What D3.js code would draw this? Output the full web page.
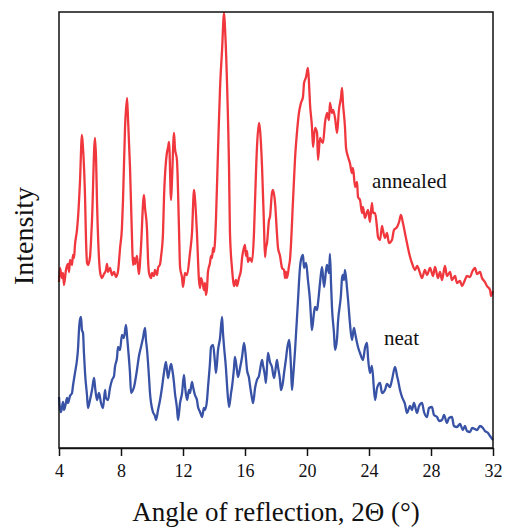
<!DOCTYPE html>
<html>
<head>
<meta charset="utf-8">
<script src="https://cdn.jsdelivr.net/npm/d3@7"></script>
<style>
  body { margin: 0; background: #fff; }
  svg { display: block; }
  svg text { font-family: "Liberation Serif", "Times New Roman", serif; }
</style>
</head>
<body>
<svg id="chart"></svg>
<script>
// XRD patterns (2theta in degrees, intensity in arbitrary units)
const annealedAngle = [
  4.00, 4.06, 4.19, 4.26, 4.32, 4.45, 4.58, 4.65, 4.71, 4.84, 4.90, 4.97, 5.03, 5.16, 5.23, 5.35,
  5.48, 5.55, 5.68, 5.74, 5.81, 5.87, 6.00, 6.06, 6.13, 6.32, 6.39, 6.45, 6.58, 6.65, 6.77, 6.90,
  7.03, 7.10, 7.16, 7.29, 7.42, 7.55, 7.68, 7.81, 7.94, 8.06, 8.13, 8.26, 8.39, 8.45, 8.58, 8.71,
  8.77, 8.84, 8.90, 9.03, 9.10, 9.16, 9.23, 9.29, 9.48, 9.55, 9.68, 9.74, 9.81, 9.94, 10.00, 10.13,
  10.19, 10.32, 10.39, 10.52, 10.58, 10.71, 10.77, 10.97, 11.03, 11.10, 11.23, 11.29, 11.42, 11.48,
  11.61, 11.74, 11.81, 11.94, 12.00, 12.13, 12.26, 12.45, 12.58, 12.71, 12.77, 12.90, 13.03, 13.10,
  13.16, 13.29, 13.35, 13.42, 13.48, 13.55, 13.61, 13.74, 13.81, 13.87, 13.94, 14.00, 14.06, 14.13,
  14.26, 14.39, 14.52, 14.65, 14.71, 14.84, 14.97, 15.03, 15.16, 15.23, 15.29, 15.42, 15.48, 15.61,
  15.74, 15.81, 15.87, 16.00, 16.06, 16.13, 16.19, 16.32, 16.45, 16.58, 16.65, 16.77, 16.90, 16.97,
  17.10, 17.23, 17.29, 17.35, 17.42, 17.55, 17.61, 17.74, 17.81, 17.94, 18.06, 18.13, 18.26, 18.32,
  18.39, 18.52, 18.58, 18.65, 18.71, 18.84, 18.90, 19.10, 19.23, 19.35, 19.48, 19.61, 19.74, 19.81,
  19.94, 20.06, 20.13, 20.19, 20.32, 20.39, 20.52, 20.65, 20.71, 20.84, 20.90, 21.03, 21.16, 21.29,
  21.42, 21.48, 21.61, 21.68, 21.81, 21.94, 22.06, 22.19, 22.26, 22.32, 22.45, 22.52, 22.65, 22.77,
  22.90, 22.97, 23.10, 23.23, 23.29, 23.42, 23.55, 23.61, 23.74, 23.87, 23.94, 24.06, 24.19, 24.26,
  24.39, 24.52, 24.58, 24.71, 24.84, 24.90, 25.03, 25.16, 25.29, 25.48, 25.61, 25.81, 25.94, 26.06,
  26.19, 26.32, 26.45, 26.65, 26.77, 26.97, 27.10, 27.29, 27.42, 27.61, 27.74, 27.94, 28.13, 28.26,
  28.45, 28.58, 28.71, 28.90, 29.03, 29.23, 29.35, 29.55, 29.68, 29.87, 30.00, 30.19, 30.32, 30.52,
  30.65, 30.84, 30.97, 31.16, 31.29, 31.48, 31.61, 31.81, 31.87, 32.00
];
const annealedIntensity = [
  166, 180, 170, 175, 163, 178, 184, 176, 188, 183, 193, 190, 203, 218, 231, 265,
  313, 300, 251, 210, 185, 183, 191, 205, 228, 310, 290, 248, 190, 176, 170, 174,
  178, 184, 176, 180, 173, 176, 171, 177, 200, 220, 248, 320, 350, 330, 281, 210,
  183, 190, 184, 192, 181, 174, 186, 201, 253, 240, 218, 190, 175, 170, 175, 172,
  178, 173, 180, 184, 191, 215, 248, 296, 300, 306, 248, 268, 315, 300,
  288, 220, 181, 170, 161, 175, 173, 195, 215, 258, 250, 215, 168, 160,
  170, 163, 158, 165, 153, 160, 176, 185, 192, 190, 200, 196, 205, 230,
  298, 360, 398, 435, 420, 365, 280, 215, 180, 168, 162, 168, 162, 170,
  178, 190, 196, 203, 192, 197, 186, 190, 186, 215, 248, 300, 325, 318,
  281, 220, 191, 200, 205, 228, 231, 255, 258, 245, 215, 200, 192, 186,
  180, 178, 170, 176, 170, 182, 188, 248, 290, 315, 335, 345, 351, 365,
  371, 380, 365, 345, 321, 301, 320, 315, 288, 310, 308, 305, 325, 335,
  328, 345, 335, 338, 330, 315, 338, 350, 360, 345, 321, 300, 291, 285,
  275, 280, 261, 266, 251, 248, 235, 241, 230, 236, 238, 226, 245, 235,
  235, 220, 211, 208, 222, 218, 210, 215, 205, 208, 218, 221, 226, 233,
  225, 215, 205, 191, 185, 178, 182, 175, 170, 178, 173, 180, 172, 181,
  170, 176, 168, 182, 172, 176, 168, 172, 165, 167, 162, 168, 172, 171,
  176, 180, 174, 176, 170, 166, 162, 158, 152, 157
];

const neatAngle = [
  4.00, 4.06, 4.13, 4.26, 4.32, 4.39, 4.52, 4.58, 4.71, 4.84, 4.90, 5.03, 5.16, 5.23, 5.29, 5.35,
  5.42, 5.48, 5.55, 5.61, 5.68, 5.81, 5.87, 6.00, 6.13, 6.26, 6.32, 6.45, 6.58, 6.71, 6.84, 6.97,
  7.03, 7.16, 7.29, 7.42, 7.55, 7.61, 7.74, 7.81, 7.94, 8.06, 8.19, 8.32, 8.39, 8.45, 8.58, 8.65,
  8.77, 8.84, 8.97, 9.03, 9.16, 9.29, 9.42, 9.55, 9.61, 9.68, 9.81, 9.87, 9.94, 10.06, 10.19, 10.26,
  10.39, 10.52, 10.65, 10.77, 10.90, 11.03, 11.10, 11.23, 11.29, 11.42, 11.48, 11.61, 11.68, 11.81,
  11.94, 12.06, 12.13, 12.26, 12.39, 12.45, 12.58, 12.65, 12.77, 12.90, 12.97, 13.10, 13.23, 13.35,
  13.42, 13.55, 13.61, 13.74, 13.81, 13.94, 14.06, 14.13, 14.26, 14.39, 14.52, 14.58, 14.65, 14.77,
  14.84, 14.97, 15.10, 15.16, 15.29, 15.35, 15.48, 15.55, 15.68, 15.81, 15.94, 16.06, 16.13, 16.26,
  16.32, 16.45, 16.52, 16.65, 16.77, 16.90, 16.97, 17.10, 17.16, 17.29, 17.35, 17.48, 17.61, 17.74,
  17.87, 17.94, 18.06, 18.13, 18.26, 18.32, 18.45, 18.52, 18.65, 18.71, 18.84, 18.97, 19.03, 19.10,
  19.23, 19.42, 19.55, 19.61, 19.74, 19.81, 19.94, 20.06, 20.19, 20.26, 20.32, 20.45, 20.52, 20.65,
  20.71, 20.84, 20.97, 21.10, 21.23, 21.29, 21.42, 21.48, 21.55, 21.61, 21.74, 21.81, 21.94, 22.00,
  22.19, 22.26, 22.32, 22.39, 22.45, 22.58, 22.65, 22.77, 22.90, 23.03, 23.10, 23.23, 23.29, 23.42,
  23.61, 23.74, 23.87, 23.94, 24.06, 24.19, 24.39, 24.52, 24.71, 24.84, 25.03, 25.16, 25.35, 25.48,
  25.68, 25.81, 25.87, 26.00, 26.13, 26.32, 26.45, 26.65, 26.77, 26.90, 27.10, 27.23, 27.42, 27.55,
  27.74, 27.87, 28.06, 28.19, 28.39, 28.52, 28.71, 28.84, 29.03, 29.16, 29.35, 29.48, 29.68, 29.87,
  30.06, 30.19, 30.32, 30.52, 30.65, 30.84, 30.97, 31.16, 31.35, 31.48, 31.68, 31.81, 32.00
];
const neatIntensity = [
  51, 40, 36, 46, 38, 41, 50, 45, 52, 55, 62, 75, 88, 100, 118, 128,
  131, 118, 115, 95, 75, 52, 40, 48, 58, 70, 62, 48, 55, 45, 40, 58,
  50, 48, 60, 68, 72, 81, 90, 101, 98, 113, 110, 123, 112, 101, 75, 55,
  58, 61, 72, 78, 92, 101, 110, 120, 108, 98, 70, 55, 45, 36, 32, 28,
  38, 48, 61, 75, 86, 70, 75, 84, 80, 65, 55, 40, 28, 45,
  55, 73, 62, 48, 58, 55, 66, 61, 53, 48, 41, 36, 31, 40,
  38, 48, 60, 85, 101, 103, 86, 75, 98, 110, 131, 115, 101, 80,
  63, 41, 55, 61, 80, 91, 78, 71, 80, 91, 105, 90, 78, 70,
  63, 50, 45, 60, 68, 72, 78, 88, 83, 72, 65, 95, 86, 81,
  70, 75, 88, 81, 68, 58, 66, 75, 90, 98, 108, 80, 58, 70,
  98, 148, 181, 188, 193, 180, 185, 168, 148, 130, 118, 135, 141, 138,
  145, 165, 181, 161, 178, 183, 175, 194, 165, 141, 115, 98, 110, 126,
  153, 170, 173, 168, 178, 160, 148, 125, 108, 120, 115, 105, 101, 95,
  88, 100, 105, 90, 75, 82, 48, 60, 65, 55, 58, 64, 61, 68,
  81, 72, 68, 58, 51, 44, 35, 42, 38, 45, 35, 42, 45, 36,
  31, 40, 41, 33, 31, 27, 28, 33, 25, 30, 31, 22, 21, 24,
  18, 22, 17, 16, 20, 19, 18, 22, 20, 17, 15, 12, 8
];

const xTicks = [4, 8, 12, 16, 20, 24, 28, 32];
const seriesLabels = [
  { text: "annealed", angle: 24.2, intensity: 260 },
  { text: "neat", angle: 24.97, intensity: 103 }
];

const W = 506, H = 527;
const margin = { top: 12, right: 13, bottom: 79, left: 59 };
const width = W - margin.left - margin.right;
const height = H - margin.top - margin.bottom;
const serif = "'Liberation Serif', 'Times New Roman', serif";

const svg = d3.select("#chart").attr("width", W).attr("height", H);
const g = svg.append("g").attr("transform", `translate(${margin.left},${margin.top})`);

const x = d3.scaleLinear().domain([4, 32]).range([0, width]);
const y = d3.scaleLinear().domain([0, 436]).range([height, 0]);

const line = d3.line()
  .x(d => x(d[0]))
  .y(d => y(d[1]))
  .curve(d3.curveMonotoneX);

const annealed = annealedAngle.map((a, i) => [a, annealedIntensity[i]]);
const neat = neatAngle.map((a, i) => [a, neatIntensity[i]]);

g.append("path")
  .datum(neat)
  .attr("fill", "none")
  .attr("stroke", "#3852a6")
  .attr("stroke-width", 2.3)
  .attr("stroke-linejoin", "round")
  .attr("d", line);

g.append("path")
  .datum(annealed)
  .attr("fill", "none")
  .attr("stroke", "#f0373d")
  .attr("stroke-width", 2.3)
  .attr("stroke-linejoin", "round")
  .attr("d", line);

// frame
g.append("rect")
  .attr("width", width)
  .attr("height", height)
  .attr("fill", "none")
  .attr("stroke", "#111")
  .attr("stroke-width", 1.5);

// bottom axis, ticks outside
const xAxis = g.append("g")
  .attr("transform", `translate(0,${height})`)
  .call(d3.axisBottom(x).tickValues(xTicks).tickSize(8).tickPadding(8).tickSizeOuter(0))
  .attr("font-family", serif)
  .attr("font-size", 18);
xAxis.select(".domain").attr("stroke", "#111").attr("stroke-width", 1.5);
xAxis.selectAll(".tick line").attr("stroke", "#111").attr("stroke-width", 1.5);
xAxis.selectAll(".tick text")
  .attr("fill", "#111")
  .style("font-family", serif)
  .style("font-size", "18px");

// axis titles
svg.append("text")
  .attr("x", margin.left + width / 2)
  .attr("y", 521)
  .attr("text-anchor", "middle")
  .style("font-family", serif)
  .style("font-size", "27px")
  .attr("fill", "#111")
  .text("Angle of reflection, 2\u0398 (\u00b0)");

svg.append("text")
  .attr("transform", `translate(33,${margin.top + 224}) rotate(-90)`)
  .attr("text-anchor", "middle")
  .style("font-family", serif)
  .style("font-size", "28px")
  .attr("fill", "#111")
  .text("Intensity");

// series labels
g.selectAll(".series-label")
  .data(seriesLabels)
  .join("text")
  .attr("class", "series-label")
  .attr("x", d => x(d.angle))
  .attr("y", d => y(d.intensity))
  .style("font-family", serif)
  .style("font-size", "21px")
  .attr("fill", "#111")
  .text(d => d.text);
</script>
</body>
</html>
